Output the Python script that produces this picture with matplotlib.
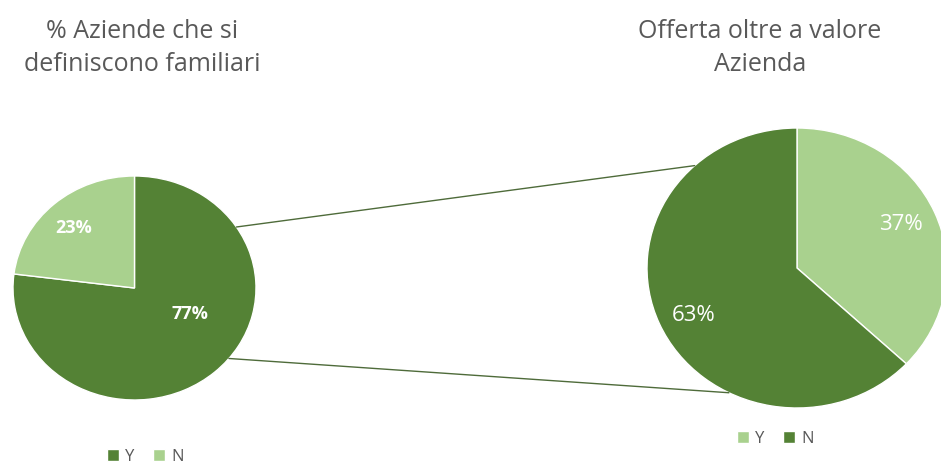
import numpy as np
import matplotlib.pyplot as plt
from matplotlib.patches import ConnectionPatch

plt.rcParams['font.family'] = ['Open Sans', 'DejaVu Sans']

dark = '#548235'
light = '#a9d18e'
grey = '#595959'

# left pie: family companies
left_title = ['% Aziende che si', 'definiscono familiari']
left_labels = ['Y', 'N']
left_values = [77, 23]

# right pie: offer beyond company value
right_title = ['Offerta oltre a valore', 'Azienda']
right_labels = ['Y', 'N']
right_values = [37, 63]

W, H = 941, 466
fig = plt.figure(figsize=(W / 100, H / 100), dpi=100)


def px_axes(x0, y0, x1, y1):
    # pixel box (top-left origin) -> figure axes
    return fig.add_axes([x0 / W, 1 - y1 / H, (x1 - x0) / W, (y1 - y0) / H])


ax1 = px_axes(13, 176, 256, 400)
ax2 = px_axes(647, 128, 947, 408)

w1, _ = ax1.pie(left_values, colors=[dark, light], startangle=90, counterclock=False,
                wedgeprops=dict(edgecolor='white', linewidth=1))
w2, _ = ax2.pie(right_values, colors=[light, dark], startangle=90, counterclock=False,
                wedgeprops=dict(edgecolor='white', linewidth=1))
for ax in (ax1, ax2):
    ax.set_aspect('auto')
    ax.set_xlim(-1, 1)
    ax.set_ylim(-1, 1)
    ax.axis('off')

# percentage labels
ax1.text(-0.5, 0.54, f'{left_values[1]}%', color='white', fontsize=13, fontweight='bold',
         ha='center', va='center')
ax1.text(0.46, -0.23, f'{left_values[0]}%', color='white', fontsize=13, fontweight='bold',
         ha='center', va='center')
ax2.text(0.69, 0.31, f'{right_values[0]}%', color='white', fontsize=16,
         ha='center', va='center')
ax2.text(-0.69, -0.34, f'{right_values[1]}%', color='white', fontsize=16,
         ha='center', va='center')

# connector lines between the pies
for a1, a2 in [(33, 133), (-39, -117)]:
    p1 = (np.cos(np.radians(a1)), np.sin(np.radians(a1)))
    p2 = (np.cos(np.radians(a2)), np.sin(np.radians(a2)))
    con = ConnectionPatch(xyA=p1, coordsA=ax1.transData, xyB=p2, coordsB=ax2.transData,
                          color='#4e6b3a', linewidth=1)
    fig.add_artist(con)

# titles
for line, y in zip(left_title, [38, 71]):
    fig.text(142 / W, 1 - y / H, line, ha='center', va='baseline', fontsize=18, color=grey)
for line, y in zip(right_title, [38, 71]):
    fig.text(760 / W, 1 - y / H, line, ha='center', va='baseline', fontsize=18, color=grey)

# legends
fig.legend(w1, left_labels, loc='center', bbox_to_anchor=(145 / W, 1 - 457 / H),
           ncol=2, frameon=False, fontsize=12, labelcolor=grey, handlelength=0.75,
           handleheight=0.75, handletextpad=0.35, columnspacing=1.1)
fig.legend(w2, right_labels, loc='center', bbox_to_anchor=(775 / W, 1 - 439 / H),
           ncol=2, frameon=False, fontsize=12, labelcolor=grey, handlelength=0.75,
           handleheight=0.75, handletextpad=0.35, columnspacing=1.1)

fig.savefig('out.png', dpi=100)
